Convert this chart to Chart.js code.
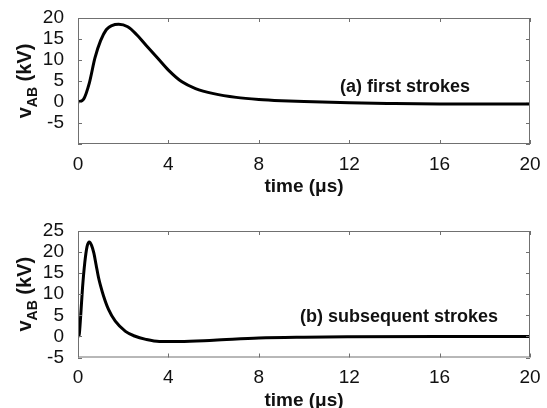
<!DOCTYPE html>
<html>
<head>
<meta charset="utf-8">
<script src="https://cdn.jsdelivr.net/npm/chart.js@4.4.0/dist/chart.umd.min.js"></script>
<style>
  body { margin: 0; background: #fff; }
  .wrap { position: absolute; left: 0; width: 547px; }
  #top { top: 0; height: 200px; }
  #bottom { top: 200px; height: 208px; }
</style>
</head>
<body>
<div class="wrap" id="top"><canvas id="chartA"></canvas></div>
<div class="wrap" id="bottom"><canvas id="chartB"></canvas></div>
<script>
// first strokes (a)
const timeA = [0, 0.25, 0.5, 0.75, 1.0, 1.25, 1.5, 1.8, 2.2, 2.6, 3.0, 3.5, 4.0, 4.6, 5.2, 6.0, 7.0, 8.0, 9.0, 10, 12, 14, 16, 18, 20];
const voltA = [0, 0.7, 4.5, 10.5, 14.6, 17.2, 18.2, 18.5, 17.9, 16.0, 13.6, 10.6, 7.6, 4.8, 3.2, 2.0, 1.1, 0.6, 0.3, 0.1, -0.2, -0.35, -0.45, -0.5, -0.5];

// subsequent strokes (b)
const timeB = [0, 0.05, 0.12, 0.2, 0.3, 0.4, 0.5, 0.6, 0.7, 0.8, 0.91, 1.0, 1.13, 1.35, 1.65, 2.1, 2.5, 3.0, 3.6, 4.5, 6, 8, 10, 12, 16, 20];
const voltB = [0, 0.3, 5, 11.5, 17.5, 21.3, 22.4, 21.6, 19.8, 17.0, 13.9, 12.0, 9.6, 6.4, 3.6, 1.2, 0.1, -0.7, -1.2, -1.2, -0.9, -0.4, -0.2, -0.1, 0, 0];

const xTicks = [0, 4, 8, 12, 16, 20];
const yTicksA = [-10, -5, 0, 5, 10, 15, 20];
const yTicksB = [-5, 0, 5, 10, 15, 20, 25];

const fontFamily = "'Liberation Sans', Arial, sans-serif";

// frame, inward ticks on all four sides, y title with subscript, note text
const decorPlugin = {
  id: 'decor',
  afterDraw(chart, args, opts) {
    const ctx = chart.ctx;
    const a = chart.chartArea;
    const xs = chart.scales.x, ys = chart.scales.y;
    ctx.save();
    ctx.strokeStyle = '#707070';
    ctx.lineWidth = 1;
    ctx.strokeRect(a.left + 0.5, a.top + 0.5, a.right - a.left - 1, a.bottom - a.top - 1);
    const len = 4;
    ctx.beginPath();
    xTicks.forEach(v => {
      const px = Math.round(xs.getPixelForValue(v)) + 0.5;
      ctx.moveTo(px, a.bottom); ctx.lineTo(px, a.bottom - len);
      ctx.moveTo(px, a.top); ctx.lineTo(px, a.top + len);
    });
    opts.yTicks.forEach(v => {
      const py = Math.round(ys.getPixelForValue(v)) + 0.5;
      ctx.moveTo(a.left, py); ctx.lineTo(a.left + len, py);
      ctx.moveTo(a.right, py); ctx.lineTo(a.right - len, py);
    });
    ctx.stroke();

    ctx.fillStyle = '#111';
    // x title
    ctx.font = 'bold 19px ' + fontFamily;
    ctx.textAlign = 'center';
    ctx.textBaseline = 'middle';
    ctx.fillText('time (\u03bcs)', (a.left + a.right) / 2, a.bottom + opts.xTitleOffset);

    // note
    ctx.font = 'bold 18px ' + fontFamily;
    ctx.fillText(opts.note, opts.noteX, ys.getPixelForValue(opts.noteY));

    // y title: v_AB (kV), rotated
    const cy = (a.top + a.bottom) / 2;
    ctx.translate(31, cy);
    ctx.rotate(-Math.PI / 2);
    ctx.textAlign = 'left';
    ctx.textBaseline = 'alphabetic';
    const big = 'bold 20px ' + fontFamily;
    const small = 'bold 14px ' + fontFamily;
    ctx.font = big; const w1 = ctx.measureText('v').width;
    ctx.font = small; const w2 = ctx.measureText('AB').width;
    ctx.font = big; const w3 = ctx.measureText(' (kV)').width;
    let x0 = -(w1 + w2 + w3) / 2;
    ctx.font = big; ctx.fillText('v', x0, 0);
    ctx.font = small; ctx.fillText('AB', x0 + w1, 6);
    ctx.font = big; ctx.fillText(' (kV)', x0 + w1 + w2, 0);
    ctx.restore();
  }
};

function makeChart(id, times, volts, yMin, yMax, yTicks, hidden, padTop, xHeight, note, noteX, noteY) {
  return new Chart(document.getElementById(id), {
    type: 'line',
    data: {
      datasets: [{
        data: times.map((t, i) => ({ x: t, y: volts[i] })),
        borderColor: '#000',
        borderWidth: 3,
        pointRadius: 0,
        fill: false,
        cubicInterpolationMode: 'monotone'
      }]
    },
    options: {
      responsive: true,
      maintainAspectRatio: false,
      animation: false,
      events: [],
      layout: { padding: { left: 0, right: 17, top: padTop, bottom: 0 } },
      plugins: {
        legend: { display: false },
        tooltip: { enabled: false },
        decor: { yTicks: yTicks, note: note, noteX: noteX, noteY: noteY, xTitleOffset: 43 }
      },
      scales: {
        x: {
          type: 'linear',
          min: 0, max: 20,
          afterBuildTicks: s => { s.ticks = xTicks.map(v => ({ value: v })); },
          afterFit: s => { s.height = xHeight; },
          grid: { display: false },
          border: { display: false },
          ticks: { color: '#111', padding: 1, maxRotation: 0, autoSkip: false, font: { family: fontFamily, size: 19 } }
        },
        y: {
          min: yMin, max: yMax,
          afterBuildTicks: s => { s.ticks = yTicks.map(v => ({ value: v })); },
          afterFit: s => { s.width = 78; },
          grid: { display: false },
          border: { display: false },
          ticks: {
            color: '#111', padding: 6, autoSkip: false,
            font: { family: fontFamily, size: 19 },
            callback: v => hidden.includes(v) ? '' : v
          }
        }
      }
    },
    plugins: [decorPlugin]
  });
}

makeChart('chartA', timeA, voltA, -10, 20, yTicksA, [-10], 18, 56, '(a) first strokes', 405, 3.5);
makeChart('chartB', timeB, voltB, -5, 25, yTicksB, [], 31, 50.5, '(b) subsequent strokes', 399, 4.5);
</script>
</body>
</html>
